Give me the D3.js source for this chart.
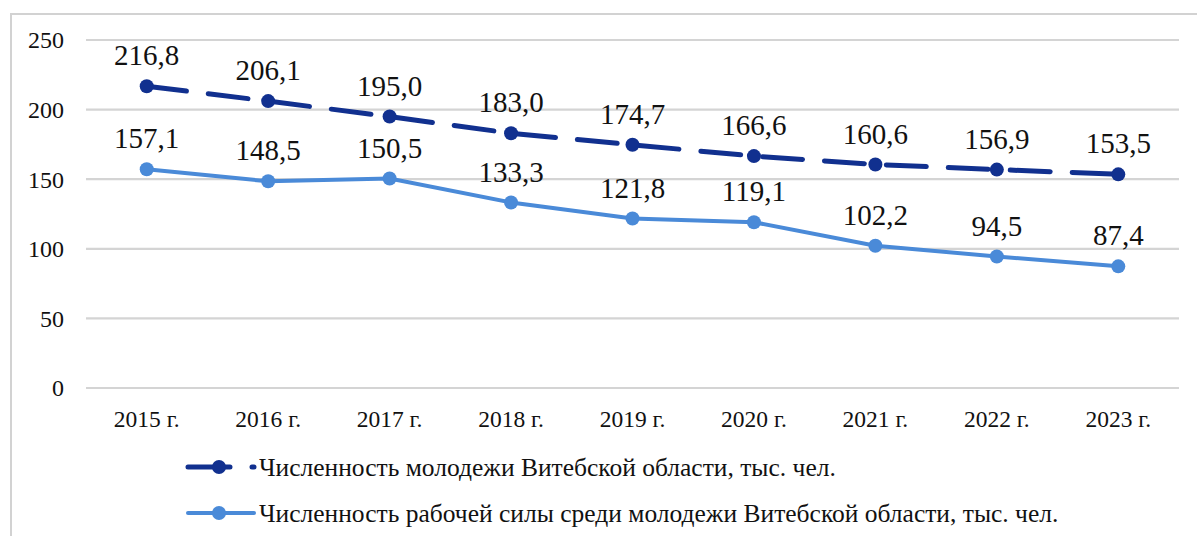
<!DOCTYPE html>
<html>
<head>
<meta charset="utf-8">
<script src="https://cdn.jsdelivr.net/npm/d3@7"></script>
<style>
  html, body { margin: 0; padding: 0; background: #fff; }
  svg { display: block; }
</style>
</head>
<body>
<svg id="chart" width="1197" height="536"></svg>
<script>
// Годы и значения рядов
const years = ["2015 г.", "2016 г.", "2017 г.", "2018 г.", "2019 г.", "2020 г.", "2021 г.", "2022 г.", "2023 г."];
const youthTotal = [216.8, 206.1, 195.0, 183.0, 174.7, 166.6, 160.6, 156.9, 153.5];
const youthLabour = [157.1, 148.5, 150.5, 133.3, 121.8, 119.1, 102.2, 94.5, 87.4];
const yTicks = [0, 50, 100, 150, 200, 250];
const seriesNames = [
  "Численность молодежи Витебской области, тыс. чел.",
  "Численность рабочей силы среди молодежи Витебской области, тыс. чел."
];

const FONT = '"Liberation Serif"';
const svg = d3.select("#chart").style("font-family", FONT);
const W = 1197, H = 536;
const plot = { left: 86, right: 1179, top: 40, bottom: 388 };
const darkBlue = "#11308f";
const lightBlue = "#4a8ad8";

// рамка области диаграммы
svg.append("rect")
  .attr("x", 11).attr("y", 14)
  .attr("width", W + 20).attr("height", H + 20)
  .attr("fill", "#fff").attr("stroke", "#d2d2d2").attr("stroke-width", 2);

const x = d3.scaleBand().domain(years).range([plot.left, plot.right]).padding(0);
const y = d3.scaleLinear().domain([0, 250]).range([plot.bottom, plot.top]);
const cx = d => x(d) + x.bandwidth() / 2;

// горизонтальные линии сетки
svg.append("g").selectAll("line").data(yTicks).join("line")
  .attr("x1", plot.left).attr("x2", plot.right)
  .attr("y1", d => y(d)).attr("y2", d => y(d))
  .attr("stroke", "#d4d4d4").attr("stroke-width", 2.2);

function label(sel, size) {
  return sel.append("text")
    .style("font-family", FONT)
    .style("font-size", size + "px")
    .attr("fill", "#111")
    .attr("dy", "0.35em");
}

// подписи оси Y
label(svg.append("g").selectAll("g").data(yTicks).join("g"), 24)
  .attr("x", 64).attr("y", d => y(d))
  .attr("text-anchor", "end")
  .text(d => d);

// подписи оси X
label(svg.append("g").selectAll("g").data(years).join("g"), 23.5)
  .attr("x", d => cx(d)).attr("y", plot.bottom + 31)
  .attr("text-anchor", "middle")
  .text(d => d);

const fmt = v => v.toFixed(1).replace(".", ",");

function drawSeries(values, color, dashed, r, width) {
  const pts = values.map((v, i) => [cx(years[i]), y(v)]);
  svg.append("path")
    .attr("d", d3.line()(pts))
    .attr("fill", "none")
    .attr("stroke", color)
    .attr("stroke-width", width)
    .attr("stroke-linecap", "round")
    .attr("stroke-dasharray", dashed ? "40,22" : null);
  svg.append("g").selectAll("circle").data(pts).join("circle")
    .attr("cx", d => d[0]).attr("cy", d => d[1]).attr("r", r)
    .attr("fill", color);
  label(svg.append("g").selectAll("g").data(values).join("g"), 29)
    .attr("x", (d, i) => cx(years[i])).attr("y", d => y(d) - 31)
    .attr("text-anchor", "middle")
    .text(d => fmt(d));
}

drawSeries(youthLabour, lightBlue, false, 7, 4);
drawSeries(youthTotal, darkBlue, true, 7, 5);

// легенда
const legend = [
  { name: seriesNames[0], color: darkBlue, dashed: true, y: 467 },
  { name: seriesNames[1], color: lightBlue, dashed: false, y: 513 }
];
legend.forEach(item => {
  const g = svg.append("g");
  g.append("line")
    .attr("x1", 188).attr("x2", 254).attr("y1", item.y).attr("y2", item.y)
    .attr("stroke", item.color).attr("stroke-width", item.dashed ? 5 : 4)
    .attr("stroke-linecap", "round")
    .attr("stroke-dasharray", item.dashed ? "42,22" : null);
  g.append("circle").attr("cx", 219).attr("cy", item.y).attr("r", 7).attr("fill", item.color);
  label(g, 25.5)
    .attr("x", 259).attr("y", item.y)
    .text(item.name);
});
</script>
</body>
</html>
